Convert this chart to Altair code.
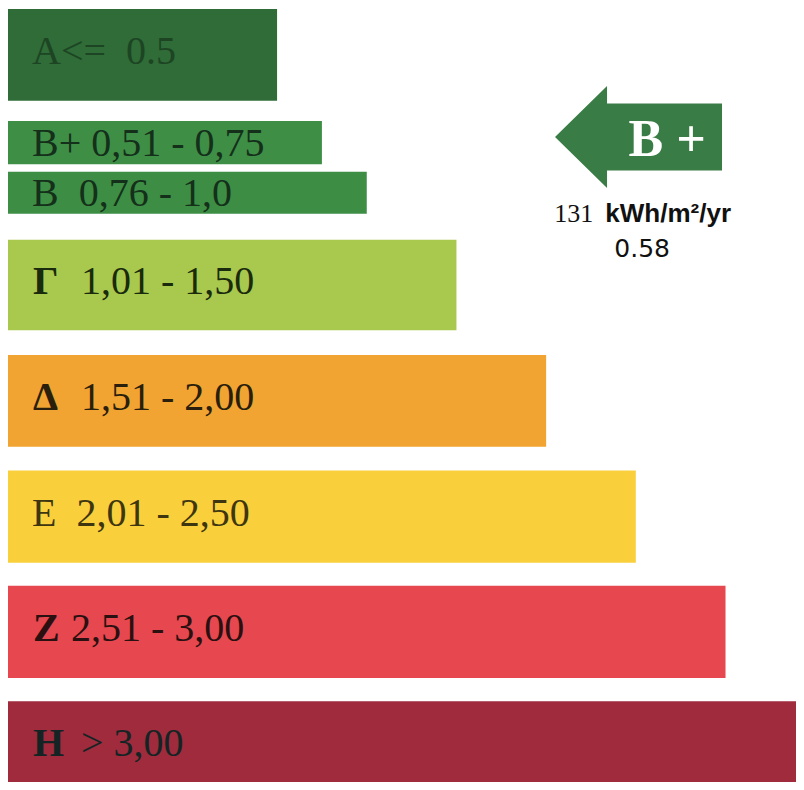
import altair as alt
import pandas as pd

# Energy classes (Greek EPC scale)
classes = ["A", "B+", "B", "Γ", "Δ", "E", "Z", "H"]
bar_length = [3.0, 3.5, 4.0, 5.0, 6.0, 7.0, 8.0, 9.0]
row_top = [0.0, 0.97, 1.41, 2.0, 3.0, 4.0, 5.0, 6.0]
row_bottom = [0.795, 1.345, 1.775, 2.785, 3.795, 4.8, 5.8, 6.8]
heads = ["A<=\u00a0\u00a00.5", "B+ 0,51 - 0,75", "B\u00a0\u00a00,76 - 1,0", "Γ", "Δ",
         "E\u00a0\u00a02,01 - 2,50", "Z", "H"]
tails = ["", "", "", "1,01 - 1,50", "1,51 - 2,00", "", "2,51 - 3,00", "> 3,00"]
bold_head = [False, False, False, True, True, False, True, True]
thin_row = [False, True, True, False, False, False, False, False]
wide_gap = [False, False, False, True, True, False, False, True]

bar_colors = ["#2f6c37", "#3f8e46", "#3d8d44", "#a8c84e", "#f1a431", "#f9cf3c", "#e7474e", "#9f2b3d"]
text_colors = ["#1d4524", "#14301a", "#14301a", "#1a2a0c", "#2a1e0c", "#3e3610", "#2a1010", "#142424"]

# Rating annotation (current rating B+)
rating_label = "B +"
arrow_x = [7.03]
arrow_y = [1.11]
consumption_value = "131"
consumption_unit = "kWh/m²/yr"
ratio_value = "0.58"

df = pd.DataFrame({
    "cls": classes, "len": bar_length, "top": row_top, "bottom": row_bottom,
    "head": heads, "tail": tails, "bold": bold_head, "thin": thin_row, "wide": wide_gap,
})

W, H = 788, 773
xs = alt.Scale(domain=[0, W / 89.69], nice=False, zero=False)
ys = alt.Scale(domain=[0, H / 115.36], nice=False, zero=False, reverse=True)

base = alt.Chart(df)

bars = base.mark_bar(clip=True, cornerRadius=0).encode(
    x=alt.X("x0:Q", scale=xs, axis=None),
    x2="len:Q",
    y=alt.Y("top:Q", scale=ys, axis=None),
    y2="bottom:Q",
    color=alt.Color("cls:N", scale=alt.Scale(domain=classes, range=bar_colors), legend=None),
).transform_calculate(x0="0")

tcol = alt.Color("cls:N", scale=alt.Scale(domain=classes, range=text_colors), legend=None)


def label_layer(field, flt, xpix, dy, weight):
    return base.transform_calculate(mid="(datum.top + datum.bottom) / 2").transform_filter(flt).mark_text(
        align="left", baseline="alphabetic", font="Liberation Serif", fontSize=40,
        fontWeight=weight, dy=dy,
    ).encode(
        x=alt.value(xpix),
        y=alt.Y("mid:Q", scale=ys, axis=None),
        text=f"{field}:N",
        color=tcol,
    )


t1 = label_layer("head", "!datum.bold && !datum.thin", 24, 9, "normal")
t2 = label_layer("head", "!datum.bold && datum.thin", 24, 13, "normal")
t3 = label_layer("head", "datum.bold", 25, 9, "bold")
t4 = label_layer("tail", "datum.bold && datum.wide", 73, 9, "normal")
t5 = label_layer("tail", "datum.bold && !datum.wide", 63, 9, "normal")

ann = pd.DataFrame({"x": arrow_x, "y": arrow_y})
arrow_path = ("M-1,0 L-0.377,-0.611 L-0.377,-0.401 L1,-0.401 L1,0.401 "
              "L-0.377,0.401 L-0.377,0.611 Z")
arrow = alt.Chart(ann).mark_point(
    shape=arrow_path, size=27889, filled=True, opacity=1, color="#3a7c45", strokeWidth=0
).encode(x=alt.X("x:Q", scale=xs, axis=None), y=alt.Y("y:Q", scale=ys, axis=None))

rating = alt.Chart(pd.DataFrame({"x": [7.35], "y": [1.274], "t": [rating_label]})).mark_text(
    align="center", baseline="alphabetic", font="Liberation Serif", fontSize=52,
    fontWeight="bold", color="white",
).encode(x=alt.X("x:Q", scale=xs, axis=None), y=alt.Y("y:Q", scale=ys, axis=None), text="t:N")

cons_val = alt.Chart(pd.DataFrame({"x": [6.09], "y": [1.846], "t": [consumption_value]})).mark_text(
    align="left", baseline="alphabetic", font="Liberation Serif", fontSize=26, color="#111111",
).encode(x=alt.X("x:Q", scale=xs, axis=None), y=alt.Y("y:Q", scale=ys, axis=None), text="t:N")

cons_unit = alt.Chart(pd.DataFrame({"x": [6.66], "y": [1.846], "t": [consumption_unit]})).mark_text(
    align="left", baseline="alphabetic", font="Liberation Sans", fontSize=26, fontWeight="bold",
    color="#111111",
).encode(x=alt.X("x:Q", scale=xs, axis=None), y=alt.Y("y:Q", scale=ys, axis=None), text="t:N")

ratio = alt.Chart(pd.DataFrame({"x": [7.07], "y": [2.15], "t": [ratio_value]})).mark_text(
    align="center", baseline="alphabetic", font="DejaVu Sans", fontSize=25, color="#111111",
).encode(x=alt.X("x:Q", scale=xs, axis=None), y=alt.Y("y:Q", scale=ys, axis=None), text="t:N")

chart = alt.layer(bars, t1, t2, t3, t4, t5, arrow, rating, cons_val, cons_unit, ratio).resolve_scale(
    color="independent"
).properties(
    width=W, height=H, autosize="none",
    padding={"left": 0, "top": 1, "right": 0, "bottom": 0},
    background="white",
).configure_view(stroke=None)

chart.save("out.html", embed_options={"renderer": "svg", "actions": False})
